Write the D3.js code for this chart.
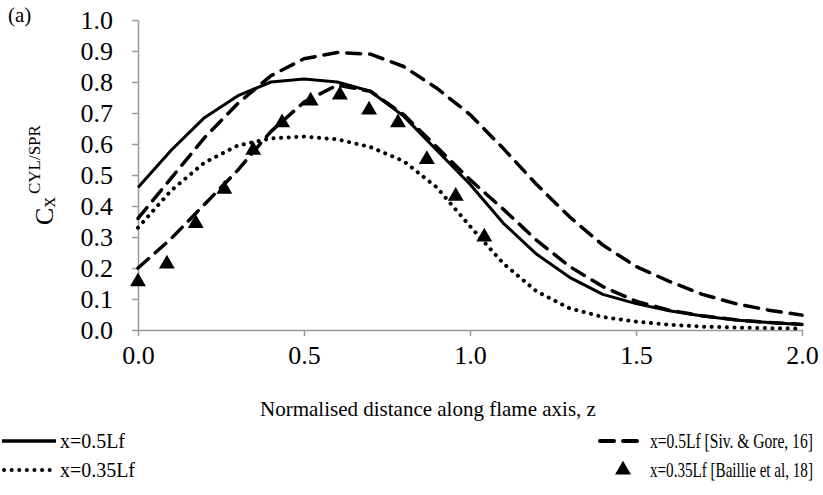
<!DOCTYPE html>
<html>
<head>
<meta charset="utf-8">
<script src="https://cdn.jsdelivr.net/npm/d3@7"></script>
<style>
    body { margin: 0; background: #fff; }
    svg text { font-family: "Liberation Serif", "Times New Roman", serif; fill: #000; }
</style>
</head>
<body>
<div id="chart"></div>
<script>
// Distance along flame axis (model curves)
const zValues = [0, 0.1, 0.2, 0.3, 0.4, 0.5, 0.6, 0.7, 0.8, 0.9, 1.0,
                 1.1, 1.2, 1.3, 1.4, 1.5, 1.6, 1.7, 1.8, 1.9, 2.0];
const solid05 = [0.46, 0.58, 0.685, 0.755, 0.80, 0.81, 0.80, 0.77, 0.69, 0.58, 0.47,
                 0.345, 0.245, 0.17, 0.115, 0.085, 0.062, 0.045, 0.032, 0.024, 0.018];
const dotted035 = [0.33, 0.45, 0.54, 0.595, 0.618, 0.624, 0.615, 0.59, 0.545, 0.46, 0.335,
                   0.215, 0.125, 0.07, 0.042, 0.027, 0.017, 0.011, 0.008, 0.006, 0.005];
const sivGore05 = [0.36, 0.49, 0.62, 0.73, 0.82, 0.875, 0.895, 0.89, 0.85, 0.78, 0.695,
                   0.586, 0.47, 0.365, 0.274, 0.205, 0.157, 0.115, 0.085, 0.064, 0.048];
const sivGore035 = [0.20, 0.295, 0.405, 0.515, 0.64, 0.735, 0.79, 0.77, 0.695, 0.59, 0.485,
                    0.39, 0.29, 0.205, 0.14, 0.093, 0.064, 0.046, 0.033, 0.024, 0.018];
// Baillie et al measurements
const baillieZ = [0, 0.087, 0.174, 0.26, 0.347, 0.434, 0.52, 0.608, 0.696, 0.783, 0.87, 0.957, 1.043];
const baillieC = [0.156, 0.213, 0.344, 0.454, 0.58, 0.669, 0.739, 0.758, 0.71, 0.669, 0.55, 0.432, 0.30];

const xTicks = [0, 0.5, 1.0, 1.5, 2.0];
const yTicks = [0, 0.1, 0.2, 0.3, 0.4, 0.5, 0.6, 0.7, 0.8, 0.9, 1.0];

const width = 823, height = 495;
const margin = { top: 20, right: 21, bottom: 165, left: 138 };
const axisColor = "#999";

const svg = d3.select("#chart").append("svg")
    .attr("width", width)
    .attr("height", height);

const x = d3.scaleLinear().domain([0, 2]).range([margin.left, width - margin.right]);
const y = d3.scaleLinear().domain([0, 1]).range([height - margin.bottom, margin.top]);

// Axes
const xAxis = svg.append("g")
    .attr("transform", `translate(0,${y(0)})`)
    .call(d3.axisBottom(x).tickValues(xTicks).tickFormat(d3.format(".1f")).tickSize(6).tickSizeOuter(0).tickPadding(10));
const yAxis = svg.append("g")
    .attr("transform", `translate(${x(0)},0)`)
    .call(d3.axisLeft(y).tickValues(yTicks).tickFormat(d3.format(".1f")).tickSize(6).tickSizeOuter(0).tickPadding(19));

[xAxis, yAxis].forEach(function (g) {
    g.attr("font-family", null).attr("font-size", null);
    g.select(".domain").attr("stroke", axisColor).attr("stroke-width", 1.5);
    g.selectAll(".tick line").attr("stroke", axisColor).attr("stroke-width", 1.5);
    g.selectAll(".tick text")
        .attr("font-size", 26)
        .attr("fill", "#000");
});

// Line styles
const seriesList = [
    { values: sivGore05, dash: "14,9", width: 3.5, cap: "round" },
    { values: sivGore035, dash: "14,9", width: 3.5, cap: "round" },
    { values: dotted035, dash: "0.1,7.5", width: 4, cap: "round" },
    { values: solid05, dash: null, width: 3, cap: "butt" }
];

const line = d3.line()
    .x(function (d) { return x(d[0]); })
    .y(function (d) { return y(d[1]); });

seriesList.forEach(function (s) {
    svg.append("path")
        .datum(zValues.map(function (z, i) { return [z, s.values[i]]; }))
        .attr("fill", "none")
        .attr("stroke", "#000")
        .attr("stroke-width", s.width)
        .attr("stroke-linecap", s.cap)
        .attr("stroke-linejoin", "round")
        .attr("stroke-dasharray", s.dash)
        .attr("d", line);
});

// Triangle markers
const tri = d3.symbol().type(d3.symbolTriangle).size(110);
svg.selectAll(".marker")
    .data(baillieZ.map(function (z, i) { return [z, baillieC[i]]; }))
    .enter()
    .append("path")
    .attr("class", "marker")
    .attr("d", tri)
    .attr("transform", function (d) { return `translate(${x(d[0])},${y(d[1])})`; })
    .attr("fill", "#000");

// Squeeze a text horizontally so it spans the given width (source text is condensed)
function fitText(sel, tx, ty, targetWidth) {
    const w = sel.node().getComputedTextLength();
    const k = Math.min(1, targetWidth / w);
    sel.attr("transform", `translate(${tx},${ty}) scale(${k},1)`);
}

// Axis title (sits a little left of the plot centre, as in the source)
const xTitle = svg.append("text")
    .attr("font-size", 21)
    .text("Normalised distance along flame axis, z");
fitText(xTitle, 260, 416, 336);

// Y axis title: C_x^{CYL/SPR}
const yTitle = svg.append("text")
    .attr("transform", "translate(53,175) rotate(-90)")
    .attr("text-anchor", "middle")
    .attr("font-size", 26);
yTitle.append("tspan").text("C");
yTitle.append("tspan").attr("font-size", 21).attr("dy", 2).text("x");
yTitle.append("tspan").attr("font-size", 17).attr("dy", -15).attr("dx", 3).text("CYL/SPR");

// Panel label
svg.append("text")
    .attr("x", 8)
    .attr("y", 22)
    .attr("font-size", 21)
    .text("(a)");

// Legend
const legendItems = [
    { label: "x=0.5Lf", col: 0, row: 0, dash: null, width: 3.5, cap: "butt", len: 65 },
    { label: "x=0.5Lf [Siv. & Gore, 16]", col: 1, row: 0, dash: "14,9", width: 4, cap: "round", len: 163 },
    { label: "x=0.35Lf", col: 0, row: 1, dash: "0.1,7.5", width: 4, cap: "round", len: 75 },
    { label: "x=0.35Lf [Baillie et al, 18]", col: 1, row: 1, marker: true, len: 163 }
];
const legendCols = [{ x0: 2, x1: 56, tx: 60 }, { x0: 598, x1: 646, tx: 650 }];
const legendRows = [441, 470];

legendItems.forEach(function (item) {
    const c = legendCols[item.col];
    const cy = legendRows[item.row];
    if (item.marker) {
        svg.append("path")
            .attr("d", tri)
            .attr("transform", `translate(${(c.x0 + c.x1) / 2 + 1},${cy})`)
            .attr("fill", "#000");
    } else {
        svg.append("line")
            .attr("x1", item.cap === "round" ? c.x0 + 2 : c.x0)
            .attr("x2", c.x1)
            .attr("y1", cy)
            .attr("y2", cy)
            .attr("stroke", "#000")
            .attr("stroke-width", item.width)
            .attr("stroke-linecap", item.cap)
            .attr("stroke-dasharray", item.dash);
    }
    const label = svg.append("text")
        .attr("font-size", 20)
        .text(item.label);
    fitText(label, c.tx, cy + 7, item.len);
});
</script>
</body>
</html>
